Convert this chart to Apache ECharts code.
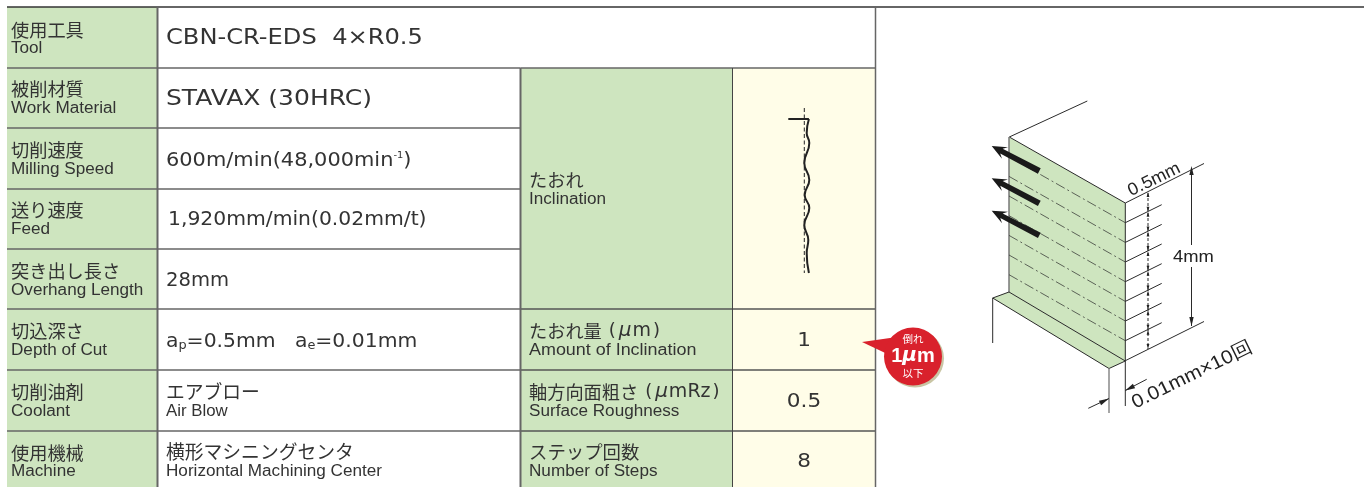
<!DOCTYPE html>
<html><head><meta charset="utf-8">
<style>html,body{margin:0;padding:0;background:#fff}#c{width:1364px;height:487px}</style>
<script src="https://cdn.jsdelivr.net/npm/echarts@6/dist/echarts.min.js"></script>
</head><body><div id="c"></div>
<script>
// ---- content ----
const leftLabelsJa = ['使用工具','被削材質','切削速度','送り速度','突き出し長さ','切込深さ','切削油剤','使用機械'];
const leftLabelsEn = ['Tool','Work Material','Milling Speed','Feed','Overhang Length','Depth of Cut','Coolant','Machine'];
const rightLabelsJa = ['たおれ','たおれ量(μm)','軸方向面粗さ(μmRz)','ステップ回数'];
const rightLabelsEn = ['Inclination','Amount of Inclination','Surface Roughness','Number of Steps'];
const resultValues = ['1','0.5','8'];
const toolName = 'CBN-CR-EDS  4×R0.5';
const workName = 'STAVAX (30HRC)';
const feedText = '1,920mm/min(0.02mm/t)';
const overhangText = '28mm';
const coolantJa = 'エアブロー', coolantEn = 'Air Blow';
const machineJa = '横形マシニングセンタ', machineEn = 'Horizontal Machining Center';
// inclination profile: deviation from the dashed reference, and position down the wall
const profileDeviation = [2.3,1.2,2.5,0,2.5,0.2,2.5,0,2,1.2,2.3];
const profilePosition  = [0,14,24,44,61,76,89,106,121,134,154];

// ---- layout ----
const rowY = [7,68,128,189,249,309,370,431,487];
const X = {l:7, a:157.5, b:520.5, c:732.5, r:875.5};
const GREEN='#cee5bf', CREAM='#fffde8', INK='#333', RULE='#666', DARK='#333';
const JA='"Noto Sans CJK JP"', EN='"Liberation Sans"', VAL='"DejaVu Sans"';

const g=[];
const rect=(x,y,w,h,fill)=>g.push({type:'rect',shape:{x,y,width:w,height:h},style:{fill},silent:true});
const line=(x1,y1,x2,y2,stroke,lineWidth=1,dash)=>g.push({type:'line',shape:{x1,y1,x2,y2},style:{stroke,lineWidth,lineDash:dash||null}});
const poly=(points,fill)=>g.push({type:'polygon',shape:{points},style:{fill}});
const text=(x,y,t,font,size,opt={})=>g.push({type:'text',x,y,rotation:opt.rot||0,scaleX:opt.sx||1,scaleY:opt.sy||1,z:5,
  style:{text:t,font:`${opt.weight||'normal'} ${size}px ${font}`,fill:opt.fill||INK,align:opt.align||'left',verticalAlign:'middle',rich:opt.rich}});

// backgrounds
rect(X.l,rowY[0],X.a-X.l,480,GREEN);
rect(X.b,rowY[1],X.c-X.b,419,GREEN);
rect(X.c,rowY[1],X.r-X.c,419,CREAM);

// rules
line(X.l,rowY[0],1364,rowY[0],DARK,1.5);
for(let i=1;i<8;i++){
  line(X.l,rowY[i],X.a,rowY[i],RULE,1.3);
  line(X.a,rowY[i],X.b,rowY[i],RULE,1.3);
  if(i===1||i>=5) line(X.b,rowY[i],X.r,rowY[i],i===1?RULE:'#555',1.3);
}
line(X.a,rowY[0],X.a,487,RULE,2);
line(X.b,rowY[1],X.b,487,RULE,2);
line(X.c,rowY[1],X.c,487,'#444',1);
line(X.r,rowY[0],X.r,487,RULE,1.5);

// left column labels
const ES=16, ESX=1.07;
const jaY=[30,89,150,210,271,331,392,453], enY=[49,109,170,230,291,351,412,472];
leftLabelsJa.forEach((t,i)=>text(11,jaY[i],t,JA,18.2));
leftLabelsEn.forEach((t,i)=>text(11,enY[i],t,EN,ES,{sx:ESX}));

// values column
const VS=19;
text(166,39,toolName,VAL,21,{sx:1.15});
text(166,100,workName,VAL,21,{sx:1.19});
text(166,161,'{a|600m/min(48,000min}{s|-1}{a|)}',VAL,VS,{sx:1.10,rich:{a:{font:`${VS}px ${VAL}`,fill:INK},s:{font:`9px ${VAL}`,fill:INK,verticalAlign:'top'}}});
text(168,220,feedText,VAL,VS,{sx:1.07});
text(166,281,overhangText,VAL,VS,{sx:1.03});
text(166,342,'{a|a}{s|p}{a|=0.5mm   a}{s|e}{a|=0.01mm}',VAL,VS,{sx:1.07,rich:{a:{font:`${VS}px ${VAL}`,fill:INK},s:{font:`12px ${VAL}`,fill:INK,verticalAlign:'bottom'}}});
text(166,392,coolantJa,JA,18.8);
text(166,412,coolantEn,EN,ES,{sx:1.05});
text(166,452,machineJa,JA,18.8);
text(166,472,machineEn,EN,ES,{sx:ESX});

// right-hand labels
const muRich={a:{font:`18.2px ${JA}`,fill:INK},
  p:{font:`18px ${VAL}`,fill:INK,padding:[0,3,0,7]},
  q:{font:`18px ${VAL}`,fill:INK,padding:[0,0,0,2]},
  m:{font:`italic 20px ${VAL}`,fill:INK},
  l:{font:`19px ${VAL}`,fill:INK,padding:[0,0,0,1]}};
text(529,180,rightLabelsJa[0],JA,18.2);
text(529,200,rightLabelsEn[0],EN,ES,{sx:ESX});
text(529,331,'{a|たおれ量}{p|(}{m|μ}{l|m}{q|)}',JA,18.2,{rich:muRich});
text(529,351,rightLabelsEn[1],EN,ES,{sx:1.12});
text(529,392,'{a|軸方向面粗さ}{p|(}{m|μ}{l|mRz}{q|)}',JA,18.2,{rich:muRich});
text(529,412,rightLabelsEn[2],EN,ES,{sx:ESX});
text(529,452,rightLabelsJa[3],JA,18.4);
text(529,472,rightLabelsEn[3],EN,ES,{sx:ESX});
const valY=[341,402,462];
resultValues.forEach((v,i)=>text(804,valY[i],v,VAL,20,{align:'center',sx:1.08}));

// balloon
g.push({type:'circle',shape:{cx:915,cy:358.5,r:29},style:{fill:'#c9c5a4'}});
poly([[862,342],[897,337],[900,360]],'#d9212c');
g.push({type:'circle',shape:{cx:913,cy:356.5,r:29},style:{fill:'#d9212c'}});
text(913,339,'倒れ',JA,10.5,{fill:'#fff',align:'center'});
text(913,356,'{b|1}{m|μ}{b|m}',EN,20,{fill:'#fff',align:'center',weight:'bold',rich:{b:{font:`bold 20px ${EN}`,fill:'#fff'},m:{font:`italic bold 20px ${VAL}`,fill:'#fff'}}});
text(913,373,'以下',JA,10.5,{fill:'#fff',align:'center'});

// workpiece sketch
const LN='#2a2a2a';
poly([[1009,137],[1125.3,203],[1125.3,361],[1009,292]],GREEN);
poly([[992.7,298],[1009,292],[1125.3,361],[1109,368.5]],GREEN);
line(1009.3,137,1087.3,101,LN,1);
line(1009.3,137,1125.3,203,LN,1);
line(1009,137,1009,292,'#777',1.5);
line(1125.3,203,1125.3,406,LN,1);
line(992.7,298,1009,292,LN,1);
line(992.7,298,1109,368.5,LN,1);
line(1009,292,1125.3,361,LN,1);
line(1109,368.5,1125.3,361,LN,1);
line(992.7,298,992.7,343,LN,1);
line(1109,368.5,1109,413,'#888',1.5);

// step lines on the face and leaders to the right of it
const stepRight=[222.7,242.4,262,281.7,301.4,321,340.7];
stepRight.forEach(y=>{
  line(1009,y-66,1125.3,y,LN,0.7,[10,3,2,3]);
  line(1125.3,y,1161.7,y-18,LN,1);
});
line(1125.3,203,1204,163.5,LN,1);
line(1125.3,360.7,1204,321.5,LN,1);

// dashed pitch marks
const pitchX=1148;
line(pitchX,193,pitchX,349,LN,1,[3,2]);
const head=(tx,ty,bx,by,w)=>{ // small arrow head with tip (tx,ty) and base centre (bx,by)
  const dx=bx-tx,dy=by-ty,l=Math.hypot(dx,dy),nx=-dy/l*w,ny=dx/l*w;
  poly([[tx,ty],[bx+nx,by+ny],[bx-nx,by-ny]],'#222');
};
[192,211.7,231.4,251,270.7,290.4,310,329.7,349].forEach((y,i)=>{
  if(i>0) head(pitchX,y,pitchX,y-5,1.4);
  if(i<8) head(pitchX,y,pitchX,y+5,1.4);
});

// 4mm dimension
line(1191.5,169,1191.5,245,LN,1);
line(1191.5,267,1191.5,326,LN,1);
head(1191.5,166,1191.5,175,2.2);
head(1191.5,326,1191.5,317,2.2);
text(1173,257,'4mm',EN,17,{sx:1.08,fill:'#222'});

// 0.01mm dimension
line(1088.3,408.3,1109,398.5,LN,1);
line(1125.3,390.5,1146.7,379.3,LN,1);
head(1109,398.5,1100,403,2.4);
head(1125.3,390.5,1134,386,2.4);
const R26=26*Math.PI/180;
text(1133,404,'0.01mm×10回',EN,19,{rot:R26,fill:'#222',sx:1.1});
text(1129,192,'0.5mm',EN,17.5,{rot:R26,fill:'#222',sx:1.05});

// thick feed arrows
[[1039.3,171,991.7,146],[1039.3,203.3,991.7,178.3],[1039.3,235.3,991.7,210.7]].forEach(([bx,by,tx,ty])=>{
  const dx=tx-bx,dy=ty-by,l=Math.hypot(dx,dy),ux=dx/l,uy=dy/l,nx=-uy,ny=ux;
  const P=(a,n)=>[bx+ux*a+nx*n,by+uy*a+ny*n];
  poly([P(0,-3),P(l-11,-2.6),P(l-15,-6.5),P(l,0),P(l-15,6.5),P(l-11,2.6),P(0,3)],'#1a1a1a');
});

const chart=echarts.init(document.getElementById('c'),null,{renderer:'canvas'});
const profile=profileDeviation.map((d,i)=>[d,profilePosition[i]]);
chart.setOption({
  backgroundColor:'#fff',animation:false,
  grid:{left:784.3,width:40,top:108,height:165},
  xAxis:{type:'value',min:-10,max:10,show:false},
  yAxis:{type:'value',min:-11,max:154,inverse:true,show:false},
  tooltip:{show:false},
  graphic:{elements:g},
  series:[
    {type:'line',name:'reference',data:[[0,-11],[0,154]],showSymbol:false,silent:true,lineStyle:{color:'#222',width:1,type:[4,2.5]},z:10},
    {type:'line',name:'profile',data:profile,smooth:0.5,showSymbol:false,silent:true,lineStyle:{color:'#222',width:2},z:11},
    {type:'line',name:'top',data:[[-8,0],[profileDeviation[0],0]],showSymbol:false,silent:true,lineStyle:{color:'#222',width:2},z:11}
  ]
});
</script></body></html>
